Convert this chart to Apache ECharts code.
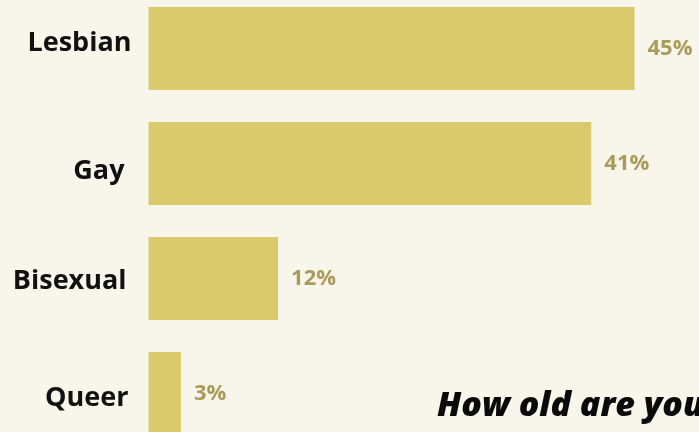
<!DOCTYPE html>
<html>
<head>
<meta charset="utf-8">
<script src="https://cdn.jsdelivr.net/npm/echarts@6/dist/echarts.min.js"></script>
<style>
  html, body { margin: 0; padding: 0; background: #f8f6ea; }
  #chart { width: 699px; height: 432px; }
</style>
</head>
<body>
<div id="chart"></div>
<script>
// Sexual orientation of respondents, share in percent
const categories = ['Lesbian', 'Gay', 'Bisexual', 'Queer'];
const shares = [45, 41, 12, 3];
const nextHeading = 'How old are you';

// per-label nudges (right padding, vertical shift) for the category names
const labelNudge = {
  Lesbian:  { right: 0, dy: -5 },
  Gay:      { right: 7, dy: 8 },
  Bisexual: { right: 5, dy: 3 },
  Queer:    { right: 3, dy: 5 }
};

const rich = {};
categories.forEach((c, i) => {
  const n = labelNudge[c];
  rich['c' + i] = {
    fontFamily: 'Open Sans',
    fontWeight: 700,
    fontSize: 27,
    color: '#111111',
    padding: [Math.max(0, n.dy * 2), n.right, Math.max(0, -n.dy * 2), 0]
  };
});

const chart = echarts.init(document.getElementById('chart'));
chart.setOption({
  backgroundColor: '#f8f6ea',
  animation: false,
  grid: {
    left: 148.5, right: 10.5, top: -9, height: 460,
    outerBoundsMode: 'none', containLabel: false
  },
  xAxis: {
    type: 'value', min: 0, max: 50,
    show: false
  },
  yAxis: {
    type: 'category',
    data: categories,
    inverse: true,
    axisLine: { show: false },
    axisTick: { show: false },
    axisLabel: {
      margin: 17,
      formatter: (v) => '{c' + categories.indexOf(v) + '|' + v + '}',
      rich: rich
    }
  },
  series: [{
    type: 'bar',
    data: shares,
    barCategoryGap: '28%',
    itemStyle: { color: '#d9cb6c' },
    label: {
      show: true,
      position: 'right',
      distance: 13,
      formatter: '{c}%',
      fontFamily: 'Open Sans',
      fontWeight: 700,
      fontSize: 22,
      color: '#a99c5a'
    }
  }],
  graphic: [{
    type: 'text',
    left: 437,
    top: 389,
    style: {
      text: nextHeading,
      font: 'italic 800 34px "Open Sans"',
      fill: '#0a0a0a'
    }
  }]
});
</script>
</body>
</html>
